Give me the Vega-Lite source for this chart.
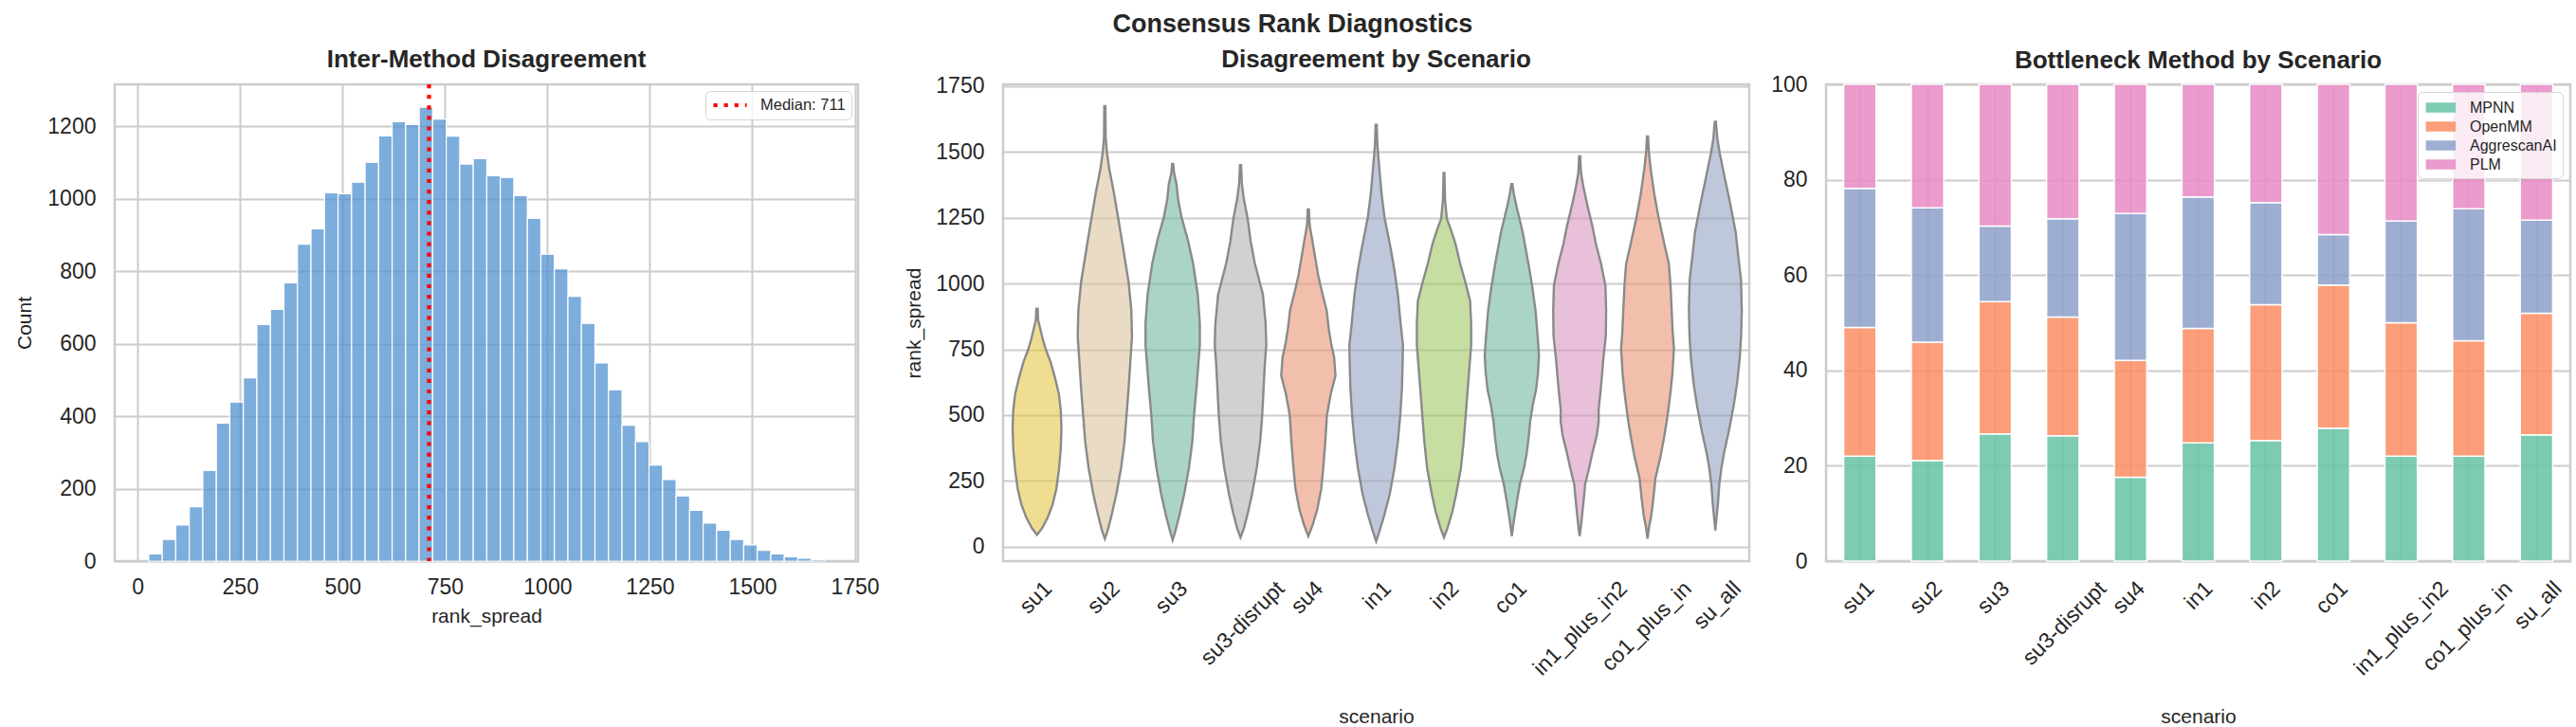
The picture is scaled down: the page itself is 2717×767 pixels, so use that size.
{
"$schema": "https://vega.github.io/schema/vega-lite/v6.json",
"background": "white",
"padding": {"left": 14, "top": 12, "right": 14, "bottom": 4},
"title": {"text": "Consensus Rank Diagnostics", "fontSize": 27, "fontWeight": "bold", "color": "#262626", "anchor": "middle", "frame": "bounds", "offset": 9, "font": "Liberation Sans"},
"config": {
  "font": "Liberation Sans",
  "view": {"stroke": "#cccccc", "strokeWidth": 2.5},
  "axis": {"labelFontSize": 23, "labelColor": "#262626", "titleFontSize": 21, "titleColor": "#262626", "titleFontWeight": "normal", "gridColor": "#cccccc", "gridWidth": 2, "domain": false, "ticks": false, "labelPadding": 16},
  "axisY": {"labelPadding": 20, "titlePadding": 13},
  "title": {"fontSize": 26, "fontWeight": "bold", "color": "#262626", "offset": 9}
},
"spacing": 23,
"resolve": {"scale": {"color": "independent"}, "legend": {"color": "independent"}},
"hconcat": [
{
  "width": 784, "height": 503,
  "title": {"text": "Inter-Method Disagreement", "frame": "group", "anchor": "middle", "offset": 10.5},
  "layer": [
    {
      "data": {"values": [
        {"bin_start":27,"bin_end":60,"count":20},{"bin_start":60,"bin_end":93,"count":60},{"bin_start":93,"bin_end":126,"count":100},{"bin_start":126,"bin_end":159,"count":150},{"bin_start":159,"bin_end":192,"count":250},
        {"bin_start":192,"bin_end":225,"count":381},{"bin_start":225,"bin_end":258,"count":439},{"bin_start":258,"bin_end":291,"count":506},{"bin_start":291,"bin_end":324,"count":653},{"bin_start":324,"bin_end":357,"count":695},
        {"bin_start":357,"bin_end":390,"count":768},{"bin_start":390,"bin_end":423,"count":875},{"bin_start":423,"bin_end":456,"count":917},{"bin_start":456,"bin_end":489,"count":1017},{"bin_start":489,"bin_end":522,"count":1014},
        {"bin_start":522,"bin_end":555,"count":1046},{"bin_start":555,"bin_end":588,"count":1101},{"bin_start":588,"bin_end":621,"count":1174},{"bin_start":621,"bin_end":654,"count":1213},{"bin_start":654,"bin_end":687,"count":1205},
        {"bin_start":687,"bin_end":720,"count":1253},{"bin_start":720,"bin_end":753,"count":1220},{"bin_start":753,"bin_end":786,"count":1173},{"bin_start":786,"bin_end":819,"count":1096},{"bin_start":819,"bin_end":852,"count":1111},
        {"bin_start":852,"bin_end":885,"count":1064},{"bin_start":885,"bin_end":918,"count":1059},{"bin_start":918,"bin_end":951,"count":1009},{"bin_start":951,"bin_end":984,"count":946},{"bin_start":984,"bin_end":1017,"count":847},
        {"bin_start":1017,"bin_end":1050,"count":807},{"bin_start":1050,"bin_end":1083,"count":731},{"bin_start":1083,"bin_end":1116,"count":656},{"bin_start":1116,"bin_end":1149,"count":547},{"bin_start":1149,"bin_end":1182,"count":473},
        {"bin_start":1182,"bin_end":1215,"count":375},{"bin_start":1215,"bin_end":1248,"count":330},{"bin_start":1248,"bin_end":1281,"count":265},{"bin_start":1281,"bin_end":1314,"count":225},{"bin_start":1314,"bin_end":1347,"count":180},
        {"bin_start":1347,"bin_end":1380,"count":140},{"bin_start":1380,"bin_end":1413,"count":105},{"bin_start":1413,"bin_end":1446,"count":85},{"bin_start":1446,"bin_end":1479,"count":60},{"bin_start":1479,"bin_end":1512,"count":45},
        {"bin_start":1512,"bin_end":1545,"count":30},{"bin_start":1545,"bin_end":1578,"count":20},{"bin_start":1578,"bin_end":1611,"count":12},{"bin_start":1611,"bin_end":1644,"count":8},{"bin_start":1644,"bin_end":1677,"count":4}
      ]},
      "mark": {"type": "bar", "fill": "#5292d0", "fillOpacity": 0.75, "stroke": "white", "strokeWidth": 1.2},
      "encoding": {
        "x": {"field": "bin_start", "type": "quantitative", "scale": {"domain": [-56, 1758], "nice": false, "zero": false},
              "axis": {"values": [0,250,500,750,1000,1250,1500,1750], "format": "d", "title": "rank_spread", "grid": true, "titlePadding": 8}},
        "x2": {"field": "bin_end"},
        "y": {"field": "count", "type": "quantitative", "scale": {"domain": [0, 1316], "nice": false},
              "axis": {"values": [0,200,400,600,800,1000,1200], "format": "d", "title": "Count"}},
        "y2": {"datum": 0}
      }
    },
    {
      "data": {"values": [{"median": 711, "label": "Median: 711"}]},
      "mark": {"type": "rule", "strokeWidth": 4.2, "strokeDash": [4.2, 6.9]},
      "encoding": {
        "x": {"field": "median", "type": "quantitative"},
        "color": {"field": "label", "type": "nominal", "scale": {"range": ["#ff0000"]},
                  "legend": {"title": null, "orient": "top-right", "offset": 7, "symbolType": "stroke", "symbolSize": 1225, "symbolStrokeWidth": 4.2, "symbolDash": [4.2, 6.9], "labelFontSize": 16.5, "labelColor": "#262626", "fillColor": "rgba(255,255,255,0.8)", "strokeColor": "#d6d6d6", "cornerRadius": 5, "padding": 6, "clipHeight": 18, "labelOffset": 12}}
      }
    }
  ]
},
{
  "spacing": 19,
  "resolve": {"scale": {"color": "independent"}, "legend": {"color": "independent"}},
  "hconcat": [
  {
    "width": 787, "height": 503,
    "title": {"text": "Disagreement by Scenario", "frame": "group", "anchor": "middle", "offset": 3.5},
    "data": {"values": [
      {"scenario":"su1","rank_spread":45,"left":0,"right":0},{"scenario":"su1","rank_spread":70,"left":-0.074,"right":0.074},{"scenario":"su1","rank_spread":110,"left":-0.156,"right":0.156},{"scenario":"su1","rank_spread":160,"left":-0.23,"right":0.23},{"scenario":"su1","rank_spread":220,"left":-0.285,"right":0.285},{"scenario":"su1","rank_spread":290,"left":-0.322,"right":0.322},{"scenario":"su1","rank_spread":370,"left":-0.35,"right":0.35},{"scenario":"su1","rank_spread":450,"left":-0.36,"right":0.36},{"scenario":"su1","rank_spread":520,"left":-0.35,"right":0.35},{"scenario":"su1","rank_spread":580,"left":-0.322,"right":0.322},{"scenario":"su1","rank_spread":640,"left":-0.267,"right":0.267},{"scenario":"su1","rank_spread":700,"left":-0.202,"right":0.202},{"scenario":"su1","rank_spread":750,"left":-0.129,"right":0.129},{"scenario":"su1","rank_spread":790,"left":-0.083,"right":0.083},{"scenario":"su1","rank_spread":830,"left":-0.046,"right":0.046},{"scenario":"su1","rank_spread":860,"left":-0.018,"right":0.018},{"scenario":"su1","rank_spread":904,"left":-0.009,"right":0.009},
      {"scenario":"su2","rank_spread":30,"left":1,"right":1},{"scenario":"su2","rank_spread":60,"left":0.96,"right":1.04},{"scenario":"su2","rank_spread":120,"left":0.9,"right":1.1},{"scenario":"su2","rank_spread":200,"left":0.83,"right":1.17},{"scenario":"su2","rank_spread":300,"left":0.76,"right":1.24},{"scenario":"su2","rank_spread":400,"left":0.71,"right":1.29},{"scenario":"su2","rank_spread":500,"left":0.68,"right":1.32},{"scenario":"su2","rank_spread":600,"left":0.65,"right":1.35},{"scenario":"su2","rank_spread":700,"left":0.625,"right":1.375},{"scenario":"su2","rank_spread":800,"left":0.6,"right":1.4},{"scenario":"su2","rank_spread":900,"left":0.61,"right":1.39},{"scenario":"su2","rank_spread":1006,"left":0.65,"right":1.35},{"scenario":"su2","rank_spread":1150,"left":0.74,"right":1.26},{"scenario":"su2","rank_spread":1252,"left":0.805,"right":1.195},{"scenario":"su2","rank_spread":1350,"left":0.87,"right":1.13},{"scenario":"su2","rank_spread":1437,"left":0.936,"right":1.064},{"scenario":"su2","rank_spread":1500,"left":0.97,"right":1.03},{"scenario":"su2","rank_spread":1557,"left":0.988,"right":1.012},{"scenario":"su2","rank_spread":1674,"left":0.992,"right":1.008},
      {"scenario":"su3","rank_spread":25,"left":2,"right":2},{"scenario":"su3","rank_spread":60,"left":1.96,"right":2.04},{"scenario":"su3","rank_spread":120,"left":1.9,"right":2.1},{"scenario":"su3","rank_spread":200,"left":1.83,"right":2.17},{"scenario":"su3","rank_spread":300,"left":1.76,"right":2.24},{"scenario":"su3","rank_spread":400,"left":1.71,"right":2.29},{"scenario":"su3","rank_spread":500,"left":1.685,"right":2.315},{"scenario":"su3","rank_spread":600,"left":1.65,"right":2.35},{"scenario":"su3","rank_spread":700,"left":1.62,"right":2.38},{"scenario":"su3","rank_spread":766,"left":1.6,"right":2.4},{"scenario":"su3","rank_spread":850,"left":1.6,"right":2.4},{"scenario":"su3","rank_spread":958,"left":1.63,"right":2.37},{"scenario":"su3","rank_spread":1078,"left":1.7,"right":2.3},{"scenario":"su3","rank_spread":1170,"left":1.78,"right":2.22},{"scenario":"su3","rank_spread":1252,"left":1.87,"right":2.13},{"scenario":"su3","rank_spread":1320,"left":1.92,"right":2.08},{"scenario":"su3","rank_spread":1378,"left":1.943,"right":2.057},{"scenario":"su3","rank_spread":1420,"left":1.98,"right":2.02},{"scenario":"su3","rank_spread":1455,"left":1.992,"right":2.008},
      {"scenario":"su3-disrupt","rank_spread":35,"left":3,"right":3},{"scenario":"su3-disrupt","rank_spread":70,"left":2.95,"right":3.05},{"scenario":"su3-disrupt","rank_spread":130,"left":2.89,"right":3.11},{"scenario":"su3-disrupt","rank_spread":200,"left":2.83,"right":3.17},{"scenario":"su3-disrupt","rank_spread":300,"left":2.76,"right":3.24},{"scenario":"su3-disrupt","rank_spread":400,"left":2.71,"right":3.29},{"scenario":"su3-disrupt","rank_spread":500,"left":2.68,"right":3.32},{"scenario":"su3-disrupt","rank_spread":600,"left":2.66,"right":3.34},{"scenario":"su3-disrupt","rank_spread":700,"left":2.64,"right":3.36},{"scenario":"su3-disrupt","rank_spread":766,"left":2.62,"right":3.38},{"scenario":"su3-disrupt","rank_spread":850,"left":2.63,"right":3.37},{"scenario":"su3-disrupt","rank_spread":958,"left":2.67,"right":3.33},{"scenario":"su3-disrupt","rank_spread":1078,"left":2.79,"right":3.21},{"scenario":"su3-disrupt","rank_spread":1160,"left":2.85,"right":3.15},{"scenario":"su3-disrupt","rank_spread":1246,"left":2.894,"right":3.106},{"scenario":"su3-disrupt","rank_spread":1320,"left":2.95,"right":3.05},{"scenario":"su3-disrupt","rank_spread":1380,"left":2.98,"right":3.02},{"scenario":"su3-disrupt","rank_spread":1450,"left":2.992,"right":3.008},
      {"scenario":"su4","rank_spread":40,"left":4,"right":4},{"scenario":"su4","rank_spread":80,"left":3.94,"right":4.06},{"scenario":"su4","rank_spread":140,"left":3.87,"right":4.13},{"scenario":"su4","rank_spread":220,"left":3.81,"right":4.19},{"scenario":"su4","rank_spread":300,"left":3.78,"right":4.22},{"scenario":"su4","rank_spread":400,"left":3.75,"right":4.25},{"scenario":"su4","rank_spread":500,"left":3.726,"right":4.274},{"scenario":"su4","rank_spread":580,"left":3.67,"right":4.33},{"scenario":"su4","rank_spread":650,"left":3.6,"right":4.4},{"scenario":"su4","rank_spread":720,"left":3.62,"right":4.38},{"scenario":"su4","rank_spread":766,"left":3.66,"right":4.34},{"scenario":"su4","rank_spread":830,"left":3.7,"right":4.3},{"scenario":"su4","rank_spread":898,"left":3.73,"right":4.27},{"scenario":"su4","rank_spread":970,"left":3.8,"right":4.2},{"scenario":"su4","rank_spread":1030,"left":3.854,"right":4.146},{"scenario":"su4","rank_spread":1100,"left":3.9,"right":4.1},{"scenario":"su4","rank_spread":1174,"left":3.948,"right":4.052},{"scenario":"su4","rank_spread":1220,"left":3.98,"right":4.02},{"scenario":"su4","rank_spread":1282,"left":3.992,"right":4.008},
      {"scenario":"in1","rank_spread":20,"left":5,"right":5},{"scenario":"in1","rank_spread":60,"left":4.95,"right":5.05},{"scenario":"in1","rank_spread":120,"left":4.88,"right":5.12},{"scenario":"in1","rank_spread":200,"left":4.8,"right":5.2},{"scenario":"in1","rank_spread":300,"left":4.73,"right":5.27},{"scenario":"in1","rank_spread":400,"left":4.68,"right":5.32},{"scenario":"in1","rank_spread":500,"left":4.645,"right":5.355},{"scenario":"in1","rank_spread":600,"left":4.62,"right":5.38},{"scenario":"in1","rank_spread":700,"left":4.61,"right":5.39},{"scenario":"in1","rank_spread":766,"left":4.605,"right":5.395},{"scenario":"in1","rank_spread":850,"left":4.64,"right":5.36},{"scenario":"in1","rank_spread":958,"left":4.68,"right":5.32},{"scenario":"in1","rank_spread":1050,"left":4.73,"right":5.27},{"scenario":"in1","rank_spread":1138,"left":4.79,"right":5.21},{"scenario":"in1","rank_spread":1252,"left":4.877,"right":5.123},{"scenario":"in1","rank_spread":1340,"left":4.92,"right":5.08},{"scenario":"in1","rank_spread":1437,"left":4.953,"right":5.047},{"scenario":"in1","rank_spread":1520,"left":4.98,"right":5.02},{"scenario":"in1","rank_spread":1603,"left":4.992,"right":5.008},
      {"scenario":"in2","rank_spread":35,"left":6,"right":6},{"scenario":"in2","rank_spread":70,"left":5.95,"right":6.05},{"scenario":"in2","rank_spread":130,"left":5.88,"right":6.12},{"scenario":"in2","rank_spread":200,"left":5.82,"right":6.18},{"scenario":"in2","rank_spread":300,"left":5.75,"right":6.25},{"scenario":"in2","rank_spread":400,"left":5.71,"right":6.29},{"scenario":"in2","rank_spread":500,"left":5.68,"right":6.32},{"scenario":"in2","rank_spread":600,"left":5.65,"right":6.35},{"scenario":"in2","rank_spread":700,"left":5.62,"right":6.38},{"scenario":"in2","rank_spread":766,"left":5.6,"right":6.4},{"scenario":"in2","rank_spread":850,"left":5.6,"right":6.4},{"scenario":"in2","rank_spread":934,"left":5.615,"right":6.385},{"scenario":"in2","rank_spread":1000,"left":5.68,"right":6.32},{"scenario":"in2","rank_spread":1078,"left":5.764,"right":6.236},{"scenario":"in2","rank_spread":1150,"left":5.83,"right":6.17},{"scenario":"in2","rank_spread":1198,"left":5.89,"right":6.11},{"scenario":"in2","rank_spread":1246,"left":5.958,"right":6.042},{"scenario":"in2","rank_spread":1320,"left":5.985,"right":6.015},{"scenario":"in2","rank_spread":1420,"left":5.994,"right":6.006},
      {"scenario":"co1","rank_spread":40,"left":7,"right":7},{"scenario":"co1","rank_spread":80,"left":6.98,"right":7.02},{"scenario":"co1","rank_spread":116,"left":6.96,"right":7.04},{"scenario":"co1","rank_spread":180,"left":6.92,"right":7.08},{"scenario":"co1","rank_spread":236,"left":6.883,"right":7.117},{"scenario":"co1","rank_spread":300,"left":6.82,"right":7.18},{"scenario":"co1","rank_spread":356,"left":6.78,"right":7.22},{"scenario":"co1","rank_spread":420,"left":6.75,"right":7.25},{"scenario":"co1","rank_spread":476,"left":6.73,"right":7.27},{"scenario":"co1","rank_spread":540,"left":6.69,"right":7.31},{"scenario":"co1","rank_spread":596,"left":6.643,"right":7.357},{"scenario":"co1","rank_spread":660,"left":6.615,"right":7.385},{"scenario":"co1","rank_spread":728,"left":6.6,"right":7.4},{"scenario":"co1","rank_spread":800,"left":6.62,"right":7.38},{"scenario":"co1","rank_spread":896,"left":6.65,"right":7.35},{"scenario":"co1","rank_spread":990,"left":6.7,"right":7.3},{"scenario":"co1","rank_spread":1075,"left":6.755,"right":7.245},{"scenario":"co1","rank_spread":1195,"left":6.84,"right":7.16},{"scenario":"co1","rank_spread":1291,"left":6.93,"right":7.07},{"scenario":"co1","rank_spread":1340,"left":6.97,"right":7.03},{"scenario":"co1","rank_spread":1378,"left":6.992,"right":7.008},
      {"scenario":"in1_plus_in2","rank_spread":40,"left":8,"right":8},{"scenario":"in1_plus_in2","rank_spread":80,"left":7.98,"right":8.02},{"scenario":"in1_plus_in2","rank_spread":116,"left":7.965,"right":8.035},{"scenario":"in1_plus_in2","rank_spread":180,"left":7.94,"right":8.06},{"scenario":"in1_plus_in2","rank_spread":236,"left":7.92,"right":8.08},{"scenario":"in1_plus_in2","rank_spread":300,"left":7.86,"right":8.14},{"scenario":"in1_plus_in2","rank_spread":356,"left":7.813,"right":8.187},{"scenario":"in1_plus_in2","rank_spread":420,"left":7.75,"right":8.25},{"scenario":"in1_plus_in2","rank_spread":476,"left":7.72,"right":8.28},{"scenario":"in1_plus_in2","rank_spread":524,"left":7.72,"right":8.28},{"scenario":"in1_plus_in2","rank_spread":596,"left":7.69,"right":8.31},{"scenario":"in1_plus_in2","rank_spread":716,"left":7.65,"right":8.35},{"scenario":"in1_plus_in2","rank_spread":800,"left":7.615,"right":8.385},{"scenario":"in1_plus_in2","rank_spread":896,"left":7.61,"right":8.39},{"scenario":"in1_plus_in2","rank_spread":992,"left":7.62,"right":8.38},{"scenario":"in1_plus_in2","rank_spread":1075,"left":7.685,"right":8.315},{"scenario":"in1_plus_in2","rank_spread":1150,"left":7.76,"right":8.24},{"scenario":"in1_plus_in2","rank_spread":1219,"left":7.813,"right":8.187},{"scenario":"in1_plus_in2","rank_spread":1290,"left":7.88,"right":8.12},{"scenario":"in1_plus_in2","rank_spread":1363,"left":7.942,"right":8.058},{"scenario":"in1_plus_in2","rank_spread":1420,"left":7.98,"right":8.02},{"scenario":"in1_plus_in2","rank_spread":1483,"left":7.992,"right":8.008},
      {"scenario":"co1_plus_in","rank_spread":30,"left":9,"right":9},{"scenario":"co1_plus_in","rank_spread":70,"left":8.98,"right":9.02},{"scenario":"co1_plus_in","rank_spread":116,"left":8.946,"right":9.054},{"scenario":"co1_plus_in","rank_spread":180,"left":8.915,"right":9.085},{"scenario":"co1_plus_in","rank_spread":260,"left":8.883,"right":9.117},{"scenario":"co1_plus_in","rank_spread":340,"left":8.81,"right":9.19},{"scenario":"co1_plus_in","rank_spread":416,"left":8.755,"right":9.245},{"scenario":"co1_plus_in","rank_spread":480,"left":8.715,"right":9.285},{"scenario":"co1_plus_in","rank_spread":536,"left":8.685,"right":9.315},{"scenario":"co1_plus_in","rank_spread":600,"left":8.655,"right":9.345},{"scenario":"co1_plus_in","rank_spread":656,"left":8.634,"right":9.366},{"scenario":"co1_plus_in","rank_spread":752,"left":8.61,"right":9.39},{"scenario":"co1_plus_in","rank_spread":820,"left":8.63,"right":9.37},{"scenario":"co1_plus_in","rank_spread":896,"left":8.643,"right":9.357},{"scenario":"co1_plus_in","rank_spread":990,"left":8.66,"right":9.34},{"scenario":"co1_plus_in","rank_spread":1075,"left":8.685,"right":9.315},{"scenario":"co1_plus_in","rank_spread":1160,"left":8.76,"right":9.24},{"scenario":"co1_plus_in","rank_spread":1255,"left":8.84,"right":9.16},{"scenario":"co1_plus_in","rank_spread":1340,"left":8.9,"right":9.1},{"scenario":"co1_plus_in","rank_spread":1435,"left":8.953,"right":9.047},{"scenario":"co1_plus_in","rank_spread":1500,"left":8.98,"right":9.02},{"scenario":"co1_plus_in","rank_spread":1559,"left":8.992,"right":9.008},
      {"scenario":"su_all","rank_spread":62,"left":10,"right":10},{"scenario":"su_all","rank_spread":90,"left":9.99,"right":10.01},{"scenario":"su_all","rank_spread":116,"left":9.98,"right":10.02},{"scenario":"su_all","rank_spread":170,"left":9.96,"right":10.04},{"scenario":"su_all","rank_spread":236,"left":9.942,"right":10.058},{"scenario":"su_all","rank_spread":300,"left":9.91,"right":10.09},{"scenario":"su_all","rank_spread":356,"left":9.872,"right":10.128},{"scenario":"su_all","rank_spread":440,"left":9.8,"right":10.2},{"scenario":"su_all","rank_spread":536,"left":9.73,"right":10.27},{"scenario":"su_all","rank_spread":620,"left":9.68,"right":10.32},{"scenario":"su_all","rank_spread":716,"left":9.64,"right":10.36},{"scenario":"su_all","rank_spread":800,"left":9.62,"right":10.38},{"scenario":"su_all","rank_spread":896,"left":9.61,"right":10.39},{"scenario":"su_all","rank_spread":1015,"left":9.622,"right":10.378},{"scenario":"su_all","rank_spread":1100,"left":9.66,"right":10.34},{"scenario":"su_all","rank_spread":1195,"left":9.7,"right":10.3},{"scenario":"su_all","rank_spread":1315,"left":9.79,"right":10.21},{"scenario":"su_all","rank_spread":1400,"left":9.86,"right":10.14},{"scenario":"su_all","rank_spread":1495,"left":9.935,"right":10.065},{"scenario":"su_all","rank_spread":1550,"left":9.97,"right":10.03},{"scenario":"su_all","rank_spread":1615,"left":9.992,"right":10.008}
    ]},
    "mark": {"type": "area", "orient": "horizontal", "stroke": "#8a8a8a", "strokeWidth": 2.4, "fillOpacity": 0.6},
    "encoding": {
      "y": {"field": "rank_spread", "type": "quantitative", "scale": {"domain": [-55, 1757], "nice": false, "zero": false},
            "axis": {"values": [0,250,500,750,1000,1250,1500,1750], "format": "d", "title": "rank_spread", "titlePadding": 12}},
      "x": {"field": "left", "type": "quantitative", "scale": {"domain": [-0.5, 10.5], "nice": false, "zero": false},
            "axis": {"values": [0,1,2,3,4,5,6,7,8,9,10], "grid": false, "title": "scenario", "labelAngle": -45, "labelAlign": "right", "labelBaseline": "middle", "labelOverlap": false, "labelPadding": 25, "titlePadding": 29,
                     "labelOffset": {"expr": "3.83*length(['su1','su2','su3','su3-disrupt','su4','in1','in2','co1','in1_plus_in2','co1_plus_in','su_all'][datum.value])"},
                     "labelExpr": "['su1','su2','su3','su3-disrupt','su4','in1','in2','co1','in1_plus_in2','co1_plus_in','su_all'][datum.value]"}},
      "x2": {"field": "right"},
      "color": {"field": "scenario", "type": "nominal",
                "scale": {"domain": ["su1","su2","su3","su3-disrupt","su4","in1","in2","co1","in1_plus_in2","co1_plus_in","su_all"],
                          "range": ["#e5c849","#dbc39d","#71b7a1","#b3b3b3","#e99575","#95a3c3","#a2c864","#71b7a1","#db96c0","#e99575","#95a3c3"]},
                "legend": null}
    }
  },
  {
    "width": 785, "height": 503,
    "title": {"text": "Bottleneck Method by Scenario", "frame": "group", "anchor": "middle", "offset": 1.5},
    "data": {"values": [
      {"scenario":"su1","method":"MPNN","stack_order":1,"pct":22.0},{"scenario":"su1","method":"OpenMM","stack_order":2,"pct":27.0},{"scenario":"su1","method":"AggrescanAI","stack_order":3,"pct":29.2},{"scenario":"su1","method":"PLM","stack_order":4,"pct":21.8},
      {"scenario":"su2","method":"MPNN","stack_order":1,"pct":21.1},{"scenario":"su2","method":"OpenMM","stack_order":2,"pct":24.8},{"scenario":"su2","method":"AggrescanAI","stack_order":3,"pct":28.2},{"scenario":"su2","method":"PLM","stack_order":4,"pct":25.9},
      {"scenario":"su3","method":"MPNN","stack_order":1,"pct":26.7},{"scenario":"su3","method":"OpenMM","stack_order":2,"pct":27.7},{"scenario":"su3","method":"AggrescanAI","stack_order":3,"pct":15.9},{"scenario":"su3","method":"PLM","stack_order":4,"pct":29.7},
      {"scenario":"su3-disrupt","method":"MPNN","stack_order":1,"pct":26.3},{"scenario":"su3-disrupt","method":"OpenMM","stack_order":2,"pct":24.9},{"scenario":"su3-disrupt","method":"AggrescanAI","stack_order":3,"pct":20.6},{"scenario":"su3-disrupt","method":"PLM","stack_order":4,"pct":28.2},
      {"scenario":"su4","method":"MPNN","stack_order":1,"pct":17.6},{"scenario":"su4","method":"OpenMM","stack_order":2,"pct":24.5},{"scenario":"su4","method":"AggrescanAI","stack_order":3,"pct":30.8},{"scenario":"su4","method":"PLM","stack_order":4,"pct":27.1},
      {"scenario":"in1","method":"MPNN","stack_order":1,"pct":24.8},{"scenario":"in1","method":"OpenMM","stack_order":2,"pct":24.0},{"scenario":"in1","method":"AggrescanAI","stack_order":3,"pct":27.6},{"scenario":"in1","method":"PLM","stack_order":4,"pct":23.6},
      {"scenario":"in2","method":"MPNN","stack_order":1,"pct":25.3},{"scenario":"in2","method":"OpenMM","stack_order":2,"pct":28.5},{"scenario":"in2","method":"AggrescanAI","stack_order":3,"pct":21.4},{"scenario":"in2","method":"PLM","stack_order":4,"pct":24.8},
      {"scenario":"co1","method":"MPNN","stack_order":1,"pct":27.9},{"scenario":"co1","method":"OpenMM","stack_order":2,"pct":30.0},{"scenario":"co1","method":"AggrescanAI","stack_order":3,"pct":10.6},{"scenario":"co1","method":"PLM","stack_order":4,"pct":31.5},
      {"scenario":"in1_plus_in2","method":"MPNN","stack_order":1,"pct":22.0},{"scenario":"in1_plus_in2","method":"OpenMM","stack_order":2,"pct":28.0},{"scenario":"in1_plus_in2","method":"AggrescanAI","stack_order":3,"pct":21.3},{"scenario":"in1_plus_in2","method":"PLM","stack_order":4,"pct":28.7},
      {"scenario":"co1_plus_in","method":"MPNN","stack_order":1,"pct":22.0},{"scenario":"co1_plus_in","method":"OpenMM","stack_order":2,"pct":24.2},{"scenario":"co1_plus_in","method":"AggrescanAI","stack_order":3,"pct":27.7},{"scenario":"co1_plus_in","method":"PLM","stack_order":4,"pct":26.1},
      {"scenario":"su_all","method":"MPNN","stack_order":1,"pct":26.5},{"scenario":"su_all","method":"OpenMM","stack_order":2,"pct":25.5},{"scenario":"su_all","method":"AggrescanAI","stack_order":3,"pct":19.5},{"scenario":"su_all","method":"PLM","stack_order":4,"pct":28.5}
    ]},
    "mark": {"type": "bar", "fillOpacity": 0.85, "stroke": "white", "strokeWidth": 1.5},
    "encoding": {
      "x": {"field": "scenario", "type": "nominal",
            "sort": ["su1","su2","su3","su3-disrupt","su4","in1","in2","co1","in1_plus_in2","co1_plus_in","su_all"],
            "scale": {"paddingInner": 0.52, "paddingOuter": 0.26},
            "axis": {"labelAngle": -45, "labelAlign": "right", "labelBaseline": "middle", "labelOverlap": false, "labelPadding": 25, "titlePadding": 29, "title": "scenario", "grid": true, "bandPosition": 0.5,
                     "labelOffset": {"expr": "3.83*length(datum.label)"}}},
      "y": {"field": "pct", "type": "quantitative", "stack": "zero", "scale": {"domain": [0, 100], "nice": false},
            "axis": {"values": [0,20,40,60,80,100], "format": "d", "title": null}},
      "order": {"field": "stack_order", "type": "quantitative"},
      "color": {"field": "method", "type": "nominal", "sort": ["MPNN","OpenMM","AggrescanAI","PLM"],
                "scale": {"domain": ["MPNN","OpenMM","AggrescanAI","PLM"], "range": ["#66c2a5","#fc8d62","#8da0cb","#e78ac3"]},
                "legend": {"title": null, "orient": "top-right", "offset": 8, "symbolType": "M-0.75,-0.5L2.25,-0.5L2.25,0.5L-0.75,0.5Z", "symbolSize": 441, "symbolOpacity": 0.85, "symbolStrokeWidth": 0, "labelFontSize": 16, "labelColor": "#262626", "fillColor": "rgba(255,255,255,0.8)", "strokeColor": "#d6d6d6", "cornerRadius": 5, "padding": 6, "rowPadding": 1, "labelOffset": 28}}
    }
  }
  ]
}
]
}
